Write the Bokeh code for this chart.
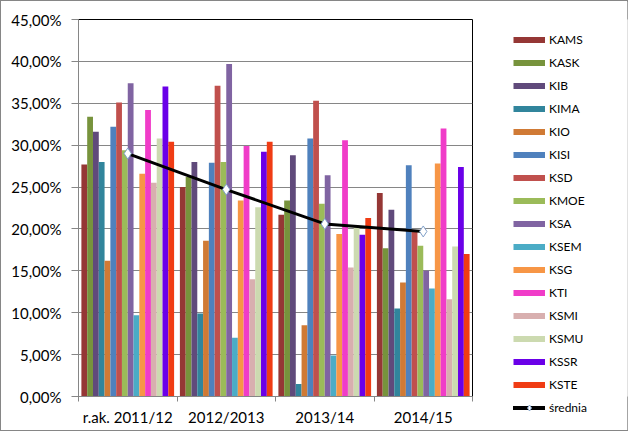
from bokeh.plotting import figure
from bokeh.layouts import row
from bokeh.models import (ColumnDataSource, Range1d, FixedTicker, CustomJSTickFormatter,
                          Legend, LegendItem)
from bokeh.transform import dodge
from bokeh.embed import file_html
from bokeh.resources import INLINE

# ---------------- data ----------------
years = ["r.ak. 2011/12", "2012/2013", "2013/14", "2014/15"]
units = ["KAMS", "KASK", "KIB", "KIMA", "KIO", "KISI", "KSD", "KMOE",
         "KSA", "KSEM", "KSG", "KTI", "KSMI", "KSMU", "KSSR", "KSTE"]

y2011 = [27.7, 33.4, 31.6, 28.0, 16.2, 32.2, 35.1, 29.4,
         37.4, 9.7, 26.6, 34.2, 25.5, 30.8, 37.0, 30.4]
y2012 = [25.0, 26.2, 28.0, 9.9, 18.6, 27.9, 37.1, 28.0,
         39.7, 7.0, 23.4, 29.9, 14.0, 22.6, 29.2, 30.4]
y2013 = [21.7, 23.4, 28.8, 1.5, 8.5, 30.8, 35.3, 23.0,
         26.4, 4.9, 19.4, 30.6, 15.4, 20.2, 19.3, 21.3]
y2014 = [24.3, 17.7, 22.3, 10.5, 13.6, 27.6, 19.8, 18.0,
         15.0, 12.9, 27.8, 32.0, 11.6, 17.9, 27.4, 17.0]
srednia = [29.0, 24.7, 20.6, 19.7]

colors = ["#953735", "#77933C", "#604A7B", "#31859C", "#D07A35", "#4F81BD",
          "#C0504D", "#9BBB59", "#8064A2", "#4BACC6", "#F79646", "#F03CC8",
          "#D8AFAF", "#CCDAB0", "#6A00E8", "#F03C14"]

FONT = "Lato"
NAN = float("nan")

# ---------------- main figure ----------------
p = figure(width=499, height=429, output_backend="svg", toolbar_location=None,
           x_range=Range1d(0, len(years)), y_range=Range1d(0, 45),
           min_border_left=77, min_border_right=28, min_border_top=18,
           min_border_bottom=34, background_fill_color="white",
           border_fill_color="white")
p.outline_line_color = "black"
p.outline_line_width = 1

xs = [i + 0.5 for i in range(len(years))]
series_vals = list(zip(y2011, y2012, y2013, y2014))
n = len(units)
w = 1.0 / (n + 1)

for i, name in enumerate(units):
    src = ColumnDataSource(dict(x=xs, v=list(series_vals[i])))
    off = (i - (n - 1) / 2) * w
    p.vbar(x=dodge("x", off), top="v", width=w, source=src,
           fill_color=colors[i], line_color=None)

msrc = ColumnDataSource(dict(x=xs, v=srednia))
p.line("x", "v", source=msrc, line_color="black", line_width=3)
p.scatter("x", "v", source=msrc, marker="diamond", size=11,
          fill_color="white", line_color="#7F9FC8", line_width=1)

# ---------------- axes ----------------
p.yaxis.ticker = FixedTicker(ticks=[5 * k for k in range(10)])
p.yaxis.formatter = CustomJSTickFormatter(
    code="return tick.toFixed(2).replace('.', ',') + '%';")
p.yaxis.axis_line_color = "#868686"
p.yaxis.major_tick_line_color = "#868686"
p.yaxis.major_tick_out = 7
p.yaxis.major_tick_in = 0
p.yaxis.minor_tick_line_color = None
p.yaxis.major_label_standoff = 10
p.yaxis.major_label_text_font = FONT
p.yaxis.major_label_text_font_size = "15px"
p.yaxis.major_label_text_color = "#000000"

p.xaxis.ticker = FixedTicker(ticks=xs, minor_ticks=list(range(len(years) + 1)))
p.xaxis.major_label_overrides = {x: lab for x, lab in zip(xs, years)}
p.xaxis.axis_line_color = "#868686"
p.xaxis.major_tick_line_color = None
p.xaxis.major_tick_out = 0
p.xaxis.major_tick_in = 0
p.xaxis.minor_tick_line_color = "#868686"
p.xaxis.minor_tick_out = 5
p.xaxis.minor_tick_in = 0
p.xaxis.major_label_standoff = 6
p.xaxis.major_label_text_font = FONT
p.xaxis.major_label_text_font_size = "15px"
p.xaxis.major_label_text_color = "#000000"

p.xgrid.grid_line_color = None
p.ygrid.grid_line_color = "#868686"
p.ygrid.grid_line_width = 1

# ---------------- legend panel ----------------
q = figure(width=127, height=429, output_backend="svg", toolbar_location=None,
           x_range=Range1d(0, 1), y_range=Range1d(0, 1),
           x_axis_location=None, y_axis_location=None,
           min_border=0, border_fill_color="white", background_fill_color="white")
q.outline_line_color = None
q.xgrid.grid_line_color = None
q.ygrid.grid_line_color = None

items = []
for i, name in enumerate(units):
    r = q.line(x=[NAN], y=[NAN], line_color=colors[i], line_width=6)
    items.append(LegendItem(label=name, renderers=[r]))
lr = q.line(x=[NAN], y=[NAN], line_color="black", line_width=4, line_cap="round")
mr = q.scatter(x=[NAN], y=[NAN], marker="diamond", size=9,
               fill_color="white", line_color="#7F9FC8", line_width=1)
items.append(LegendItem(label="średnia", renderers=[lr, mr]))

legend = Legend(items=items, location="top_left", orientation="vertical",
                glyph_width=32, glyph_height=15, label_height=15, spacing=8,
                padding=0, margin=13, label_standoff=4,
                border_line_color=None, background_fill_alpha=0,
                label_text_font=FONT, label_text_font_size="12px",
                label_text_color="#000000")
q.add_layout(legend, "left")

layout = row(p, q, styles={"border": "1px solid #868686"})
open("out.html", "w").write(file_html(layout, INLINE))
